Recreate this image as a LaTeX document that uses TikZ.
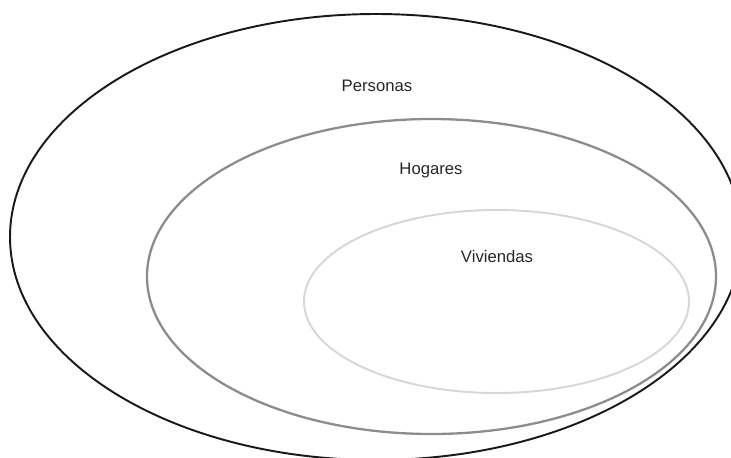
\documentclass[tikz,border=0pt]{standalone}
\usepackage{fontspec}
\setmainfont{Liberation Sans}
\usepackage{tikz}

\begin{document}
\begin{tikzpicture}[x=0.02cm,y=-0.02cm,
                        set label/.style={font=\fontsize{9.5}{11}\selectfont, text=black!85},
                        set line/.style={line width=#1}]

        \useasboundingbox (0,0) rectangle (731,457);
        \draw[set line=1.1pt, draw=black!90] (376,237) ellipse [x radius=366, y radius=223];
        \draw[set line=1.3pt, draw=black!45] (431.5,276.5) ellipse [x radius=284.5, y radius=157.5];
        \draw[set line=1.1pt, draw=black!16] (496.5,301.5) ellipse [x radius=192.5, y radius=91.5];

        \node[set label] (personas) at (377,86) {Personas};
        \node[set label] (hogares) at (431,170) {Hogares};
        \node[set label] (viviendas) at (497,257) {Viviendas};
    \end{tikzpicture}
\end{document}
